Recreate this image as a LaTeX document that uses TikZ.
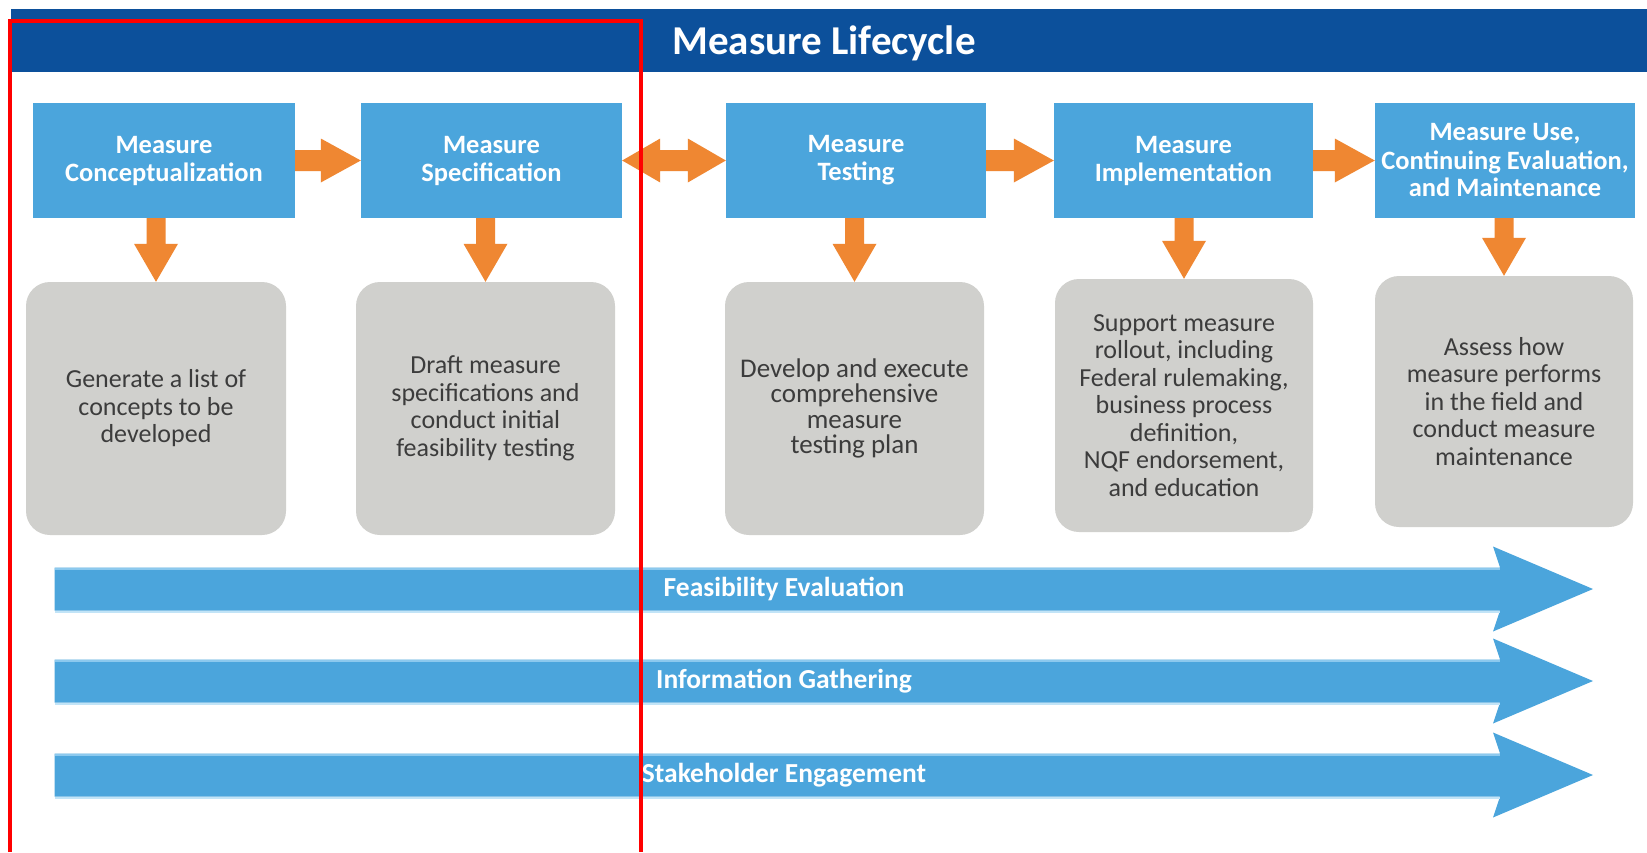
\documentclass[tikz,border=0pt]{standalone}
\usepackage{fontspec}
\setmainfont{Carlito}
\usetikzlibrary{calc}

\definecolor{barblue}{HTML}{0C509B}
\definecolor{boxblue}{HTML}{4BA5DC}
\definecolor{bandtop}{HTML}{8CC9EE}
\definecolor{bandglow}{HTML}{C2E4F7}
\definecolor{arrowor}{HTML}{EF8732}
\definecolor{panelgray}{HTML}{D0D0CD}
\definecolor{inktext}{HTML}{3C3C3C}
\definecolor{markred}{HTML}{FF0000}

% thick orange arrow from one stage box to the next
\newcommand{\flowarrow}[2]{%
  \fill[arrowor] let \p1=(#1.east), \p2=(#2.west) in
    (\x1,\y1+10.5pt) -- (\x2-40pt,\y1+10.5pt) -- (\x2-40pt,\y1+22pt) -- (\x2,\y1)
    -- (\x2-40pt,\y1-22pt) -- (\x2-40pt,\y1-10.5pt) -- (\x1,\y1-10.5pt) -- cycle;}
% double-headed orange arrow
\newcommand{\twowayarrow}[2]{%
  \fill[arrowor] let \p1=(#1.east), \p2=(#2.west) in
    (\x1,\y1) -- (\x1+38pt,\y1+22pt) -- (\x1+38pt,\y1+10.5pt) -- (\x2-38pt,\y1+10.5pt)
    -- (\x2-38pt,\y1+22pt) -- (\x2,\y1) -- (\x2-38pt,\y1-22pt) -- (\x2-38pt,\y1-10.5pt)
    -- (\x1+38pt,\y1-10.5pt) -- (\x1+38pt,\y1-22pt) -- cycle;}
% downward orange arrow from a stage box to its description panel
\newcommand{\droparrow}[2]{%
  \fill[arrowor] let \p1=(#1.south), \p2=(#2.north) in
    (\x2-9.5pt,\y1) -- (\x2-9.5pt,\y2+38pt) -- (\x2-22pt,\y2+38pt) -- (\x2,\y2)
    -- (\x2+22pt,\y2+38pt) -- (\x2+9.5pt,\y2+38pt) -- (\x2+9.5pt,\y1) -- cycle;}
% long blue band arrow with its label
\newcommand{\bandarrow}[3]{%
  \fill[boxblue] (54.6,#1-21.5) -- (1500,#1-21.5) -- (1493,#1-42.5) -- (1593,#1)
    -- (1493,#1+42.5) -- (1500,#1+21.5) -- (54.6,#1+21.5) -- cycle;
  \fill[bandtop] (54.6,#1-21.5) rectangle (1500,#1-19);
  \fill[bandglow] (54.6,#1+21.5) rectangle (1500,#1+24);
  \node[bandtext] (#2) at (784,#1) {#3};}

\begin{document}
\begin{tikzpicture}[x=1pt,y=-1pt,
  stage/.style={fill=boxblue, text=white, align=center, inner sep=0pt,
    minimum height=115pt, font=\fontsize{26.5}{28}\selectfont\bfseries},
  panel/.style={fill=panelgray, text=inktext, align=center, inner sep=0pt,
    rounded corners=24pt, font=\fontsize{26}{27.5}\selectfont},
  bandtext/.style={text=white, font=\fontsize{27.5}{29}\selectfont\bfseries, inner sep=0pt},
  titletext/.style={text=white, font=\fontsize{41}{46}\selectfont\bfseries, inner sep=0pt}]

\useasboundingbox (0,0) rectangle (1647,852);
\fill[white] (0,0) rectangle (1647,852);

% title bar
\node[fill=barblue, anchor=north west, minimum width=1636pt, minimum height=63pt,
  inner sep=0pt] (bar) at (11,9) {};
\node[titletext, anchor=base] (title) at (824,54) {Measure Lifecycle};

% lifecycle stages
\node[stage, minimum width=262pt] (concept) at (164,160.5) {Measure\\Conceptualization};
\node[stage, minimum width=261pt] (spec) at (491.5,160.5) {Measure\\Specification};
\node[stage, minimum width=260pt] (test) at (856,160.5) {Measure\\Testing};
\node[stage, minimum width=259pt] (impl) at (1183.5,160.5) {Measure\\Implementation};
\node[stage, minimum width=260pt] (use) at (1505,160.5) {Measure Use,\\Continuing Evaluation,\\and Maintenance};

% description panels
\node[panel, minimum width=260pt, minimum height=253pt] (conceptd) at (156,408.5)
  {Generate a list of\\concepts to be\\developed};
\node[panel, minimum width=259pt, minimum height=253pt] (specd) at (485.5,408.5)
  {Draft measure\\specifications and\\conduct initial\\feasibility testing};
\node[panel, minimum width=259pt, minimum height=253pt,
  font=\fontsize{27}{25.5}\selectfont] (testd) at (854.5,408.5)
  {Develop and execute\\comprehensive\\measure\\testing plan};
\node[panel, minimum width=258pt, minimum height=253pt] (impld) at (1184,405.5)
  {Support measure\\rollout, including\\Federal rulemaking,\\business process\\definition,\\NQF endorsement,\\and education};
\node[panel, minimum width=258pt, minimum height=251pt] (used) at (1504,401.5)
  {Assess how\\measure performs\\in the field and\\conduct measure\\maintenance};

% connectors between stages
\flowarrow{concept}{spec}
\twowayarrow{spec}{test}
\flowarrow{test}{impl}
\flowarrow{impl}{use}

% connectors to the panels
\droparrow{concept}{conceptd}
\droparrow{spec}{specd}
\droparrow{test}{testd}
\droparrow{impl}{impld}
\droparrow{use}{used}

% cross-cutting activities
\bandarrow{589}{feas}{Feasibility Evaluation}
\bandarrow{681}{info}{Information Gathering}
\bandarrow{775}{stake}{Stakeholder Engagement}

% red highlight frame
\draw[markred, line width=4pt] (10,852) -- (10,20.5) -- (641,20.5) -- (641,852);
\end{tikzpicture}
\end{document}
